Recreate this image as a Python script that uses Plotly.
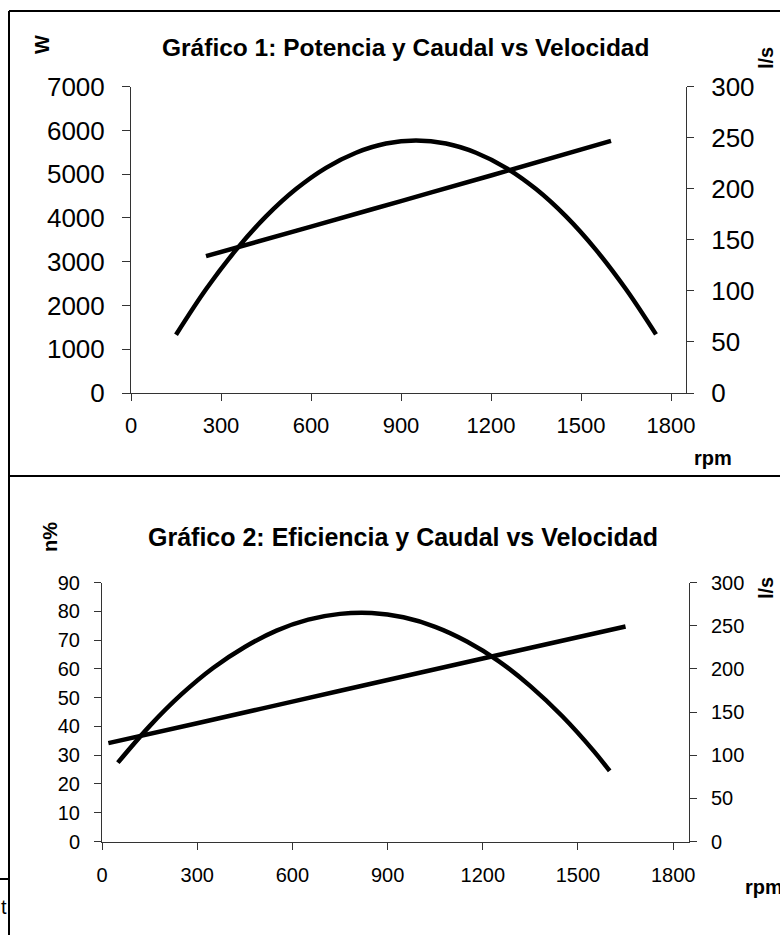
import plotly.graph_objects as go

W, H = 780, 935


def px(x):
    return x / W


def py(y):
    return 1 - y / H


# ---------------- data ----------------
# Chart 1: power (W) and flow (l/s) vs speed (rpm)
rpm_power = [150, 250, 350, 450, 550, 650, 750, 850, 950,
             1050, 1150, 1250, 1350, 1450, 1550, 1650, 1750]
power_w = [1330, 2370, 3270, 4035, 4660, 5145, 5490, 5700, 5770,
           5700, 5490, 5145, 4660, 4035, 3270, 2370, 1340]
rpm_flow1 = [250, 600, 900, 1200, 1600]
flow1 = [134, 163, 188, 213, 247]

# Chart 2: efficiency (%) and flow (l/s) vs speed (rpm)
rpm_eff = [50, 150, 250, 350, 450, 550, 650, 750, 850, 950,
           1050, 1150, 1250, 1350, 1450, 1550, 1600]
eff_pct = [27.4, 40.1, 51.1, 60.3, 67.6, 73.3, 77.1, 79.1, 79.4, 77.9,
           74.6, 69.5, 62.7, 54.0, 43.6, 31.4, 24.5]
rpm_flow2 = [20, 300, 600, 900, 1200, 1650]
flow2 = [114, 137, 162, 187, 212, 249]

x_ticks = [0, 300, 600, 900, 1200, 1500, 1800]
w_ticks = [0, 1000, 2000, 3000, 4000, 5000, 6000, 7000]
ls_ticks = [0, 50, 100, 150, 200, 250, 300]
eff_ticks = [0, 10, 20, 30, 40, 50, 60, 70, 80, 90]

FONT = "Liberation Sans, Arial, sans-serif"
LINE = dict(color="black", width=4.5, shape="spline")

fig = go.Figure()
fig.add_trace(go.Scatter(x=rpm_power, y=power_w, mode="lines", line=LINE,
                         xaxis="x", yaxis="y", showlegend=False))
fig.add_trace(go.Scatter(x=rpm_flow1, y=flow1, mode="lines", line=LINE,
                         xaxis="x", yaxis="y2", showlegend=False))
fig.add_trace(go.Scatter(x=rpm_eff, y=eff_pct, mode="lines", line=LINE,
                         xaxis="x2", yaxis="y3", showlegend=False))
fig.add_trace(go.Scatter(x=rpm_flow2, y=flow2, mode="lines", line=LINE,
                         xaxis="x2", yaxis="y4", showlegend=False))

common = dict(showgrid=False, zeroline=False, showline=True,
              ticks="outside", tickcolor="#333", linecolor="#333",
              linewidth=1, tickwidth=1, automargin=False)
cross = dict(showgrid=False, zeroline=False, showline=False,
             ticks="inside", ticklen=8, tickcolor="#333",
             showticklabels=False, automargin=False)

top_x = [px(131), px(686)]
top_y = [py(393), py(86.7)]
bot_x = [px(102), px(689)]
bot_y = [py(841.5), py(582.5)]

fig.update_layout(
    width=W, height=H,
    margin=dict(l=0, r=0, t=0, b=0),
    paper_bgcolor="white", plot_bgcolor="white",
    font=dict(family=FONT, color="black"),
    xaxis=dict(domain=top_x, range=[0, 1850], tickvals=x_ticks,
               anchor="y", ticklen=7, tickfont=dict(size=22),
               ticklabelstandoff=6, **common),
    yaxis=dict(domain=top_y, range=[0, 7000], tickvals=w_ticks,
               anchor="x", ticklen=8, tickfont=dict(size=26),
               ticklabelstandoff=12, **common),
    yaxis2=dict(range=[0, 300], tickvals=ls_ticks, overlaying="y",
                side="right", anchor="x", ticklen=7,
                tickfont=dict(size=26), ticklabelstandoff=12, **common),
    yaxis5=dict(range=[0, 300], tickvals=ls_ticks, overlaying="y",
                side="right", anchor="x", **cross),
    xaxis2=dict(domain=bot_x, range=[0, 1850], tickvals=x_ticks,
                anchor="y3", ticklen=7, tickfont=dict(size=20),
                ticklabelstandoff=8, **common),
    yaxis3=dict(domain=bot_y, range=[0, 90], tickvals=eff_ticks,
                anchor="x2", ticklen=7, tickfont=dict(size=20),
                ticklabelstandoff=10, **common),
    yaxis4=dict(range=[0, 300], tickvals=ls_ticks, overlaying="y3",
                side="right", anchor="x2", ticklen=7,
                tickfont=dict(size=20), ticklabelstandoff=10, **common),
    yaxis6=dict(range=[0, 300], tickvals=ls_ticks, overlaying="y3",
                side="right", anchor="x2", **cross),
)

# frame lines of the pasted charts
shapes = [
    dict(type="line", x0=px(9), x1=1, y0=py(11), y1=py(11)),
    dict(type="line", x0=px(9), x1=px(9), y0=py(11), y1=0),
    dict(type="line", x0=px(9), x1=1, y0=py(476), y1=py(476)),
    dict(type="line", x0=0, x1=px(9), y0=py(879), y1=py(879)),
]
for s in shapes:
    s.update(xref="paper", yref="paper", line=dict(color="black", width=2))
fig.update_layout(shapes=shapes)

ann = [
    dict(text="<b>Gráfico 1: Potencia y Caudal vs Velocidad</b>",
         x=px(405), y=py(47), font=dict(size=24.5)),
    dict(text="<b>Gráfico 2: Eficiencia y Caudal vs Velocidad</b>",
         x=px(403), y=py(537), font=dict(size=25)),
    dict(text="<b>W</b>", x=px(42), y=py(45), textangle=-90,
         font=dict(size=20)),
    dict(text="<b>l/s</b>", x=px(766), y=py(58), textangle=-90,
         font=dict(size=20)),
    dict(text="<b>rpm</b>", x=px(713), y=py(458), font=dict(size=20)),
    dict(text="<b>n%</b>", x=px(50), y=py(537), textangle=-90,
         font=dict(size=20)),
    dict(text="<b>l/s</b>", x=px(766), y=py(588), textangle=-90,
         font=dict(size=20)),
    dict(text="<b>rpm</b>", x=px(764), y=py(887), font=dict(size=20)),
    dict(text="t", x=px(4), y=py(907), font=dict(size=20)),
]
for a in ann:
    a.update(xref="paper", yref="paper", showarrow=False,
             xanchor="center", yanchor="middle")
fig.update_layout(annotations=ann)

fig.write_html("out.html", config={"displayModeBar": False},
               post_script="document.body.style.margin='0px';"
                           "document.body.style.overflow='hidden';")
